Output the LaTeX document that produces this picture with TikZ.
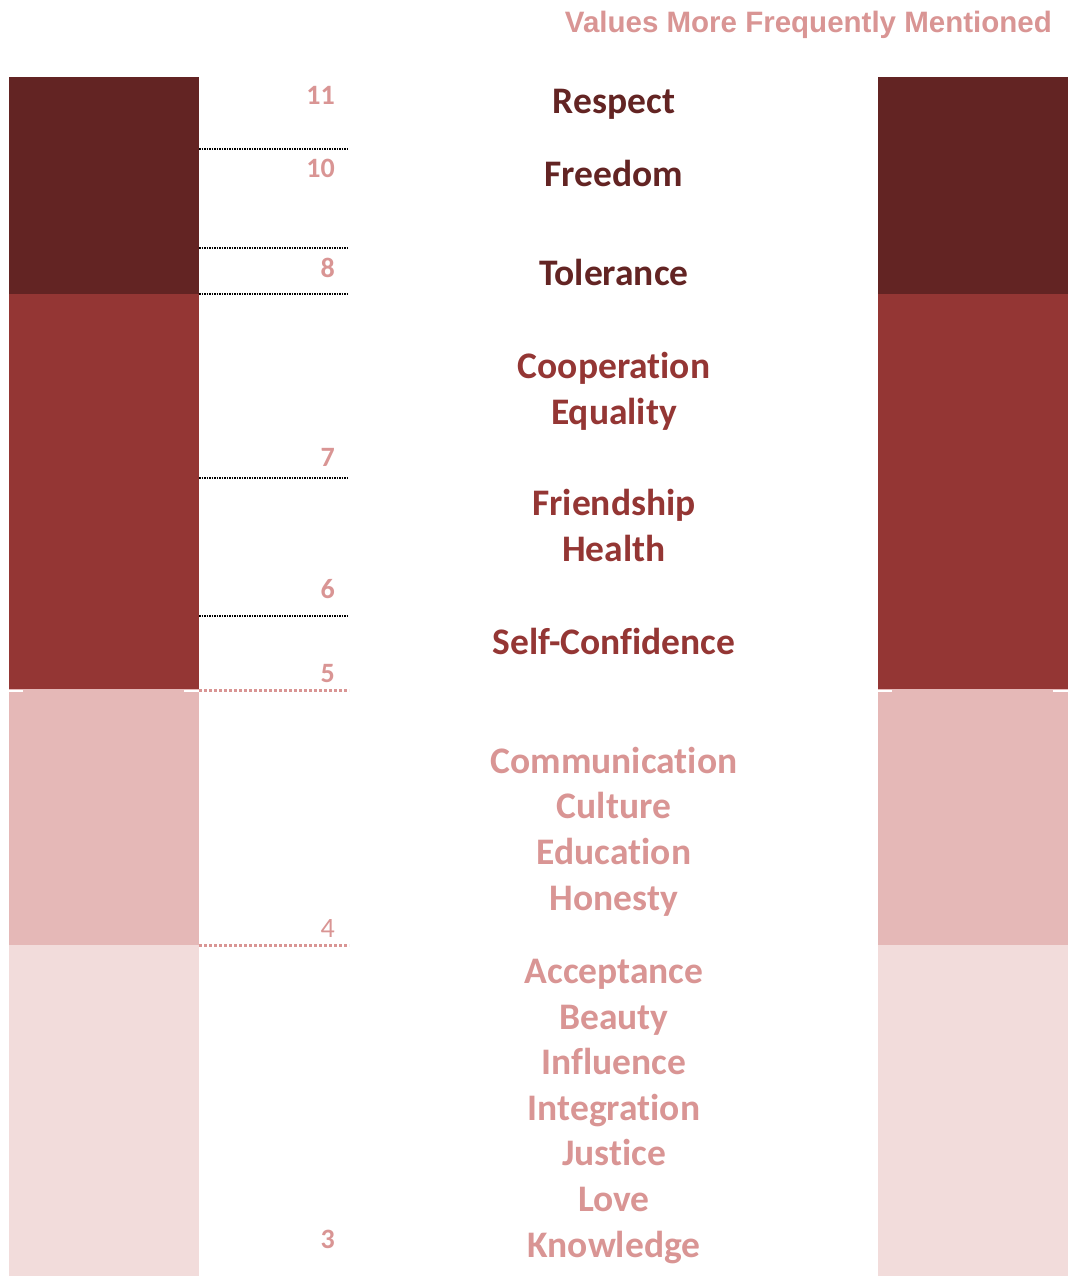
\documentclass[tikz,border=0pt]{standalone}
\usepackage{fontspec}
\setmainfont{Carlito}[Ligatures={NoCommon,NoContextual}]
\newfontfamily\titlefont{Liberation Sans}
\definecolor{darkred}{HTML}{632423}
\definecolor{midred}{HTML}{943634}
\definecolor{lightred}{HTML}{E5B8B7}
\definecolor{palered}{HTML}{F2DCDB}
\definecolor{rosetext}{HTML}{D99594}
\tikzset{
	value/.style={anchor=base,inner sep=0,font=\fontsize{37.5}{44}\selectfont\bfseries},
	count/.style={anchor=base east,inner sep=0,text=rosetext,font=\fontsize{28}{34}\selectfont\bfseries},
	blackline/.style={line width=1.5pt,dash pattern=on 1.5pt off 1pt},
	roseline/.style={rosetext,line width=3pt,dash pattern=on 3pt off 2pt},
}
\begin{document}
\begin{tikzpicture}[x=1pt,y=-1pt]
	\useasboundingbox (0,0) rectangle (1068,1276);
	% bars on both sides
	\foreach \x in {9,878}{
		\fill[darkred] (\x,77) rectangle ++(190,217);
		\fill[midred] (\x,294) rectangle ++(190,395);
		\fill[lightred] (\x,689) rectangle ++(190,256);
		\fill[palered] (\x,945) rectangle ++(190,331);
		\draw[white,line width=1.5pt] (\x,691) -- ++(14,0) (\x+175,691) -- ++(15,0);
	}
	% levels
	\foreach \y in {149,248,294,478,616}
		\draw[blackline] (199,\y) -- (349,\y);
	\foreach \y in {690,945}
		\draw[roseline] (199,\y) -- (349,\y);
	\foreach \n/\y in {11/105,10/178,8/277,7/466,6/598,5/682,3/1248}
		\node[count] (n\n) at (335,\y) {\n};
	\node[count,font=\fontsize{28}{34}\selectfont] (n4) at (335,937) {4};
	% values
	\foreach \w/\y in {Respect/113.5,Freedom/186.5,Tolerance/285.5}
		\node[value,text=darkred] (v\y) at (614,\y) {\w};
	\foreach \w/\y in {Cooperation/378.5,Equality/424.5,Friendship/515.5,Health/561.5,Self-Confidence/654.5}
		\node[value,text=midred] (v\y) at (614,\y) {\w};
	\foreach \w/\y in {Communication/773.5,Culture/818.5,Education/864.5,Honesty/910.5,Acceptance/983.5,Beauty/1029.5,Influence/1074.5,Integration/1120.5,Justice/1165.5,Love/1211.5,Knowledge/1257}
		\node[value,text=rosetext] (v\y) at (614,\y) {\w};
	\node[anchor=base east,inner sep=0,text=rosetext,font=\titlefont\bfseries\fontsize{29.5}{34}\selectfont] (title) at (1052,33) {Values More Frequently Mentioned};
\end{tikzpicture}
\end{document}
